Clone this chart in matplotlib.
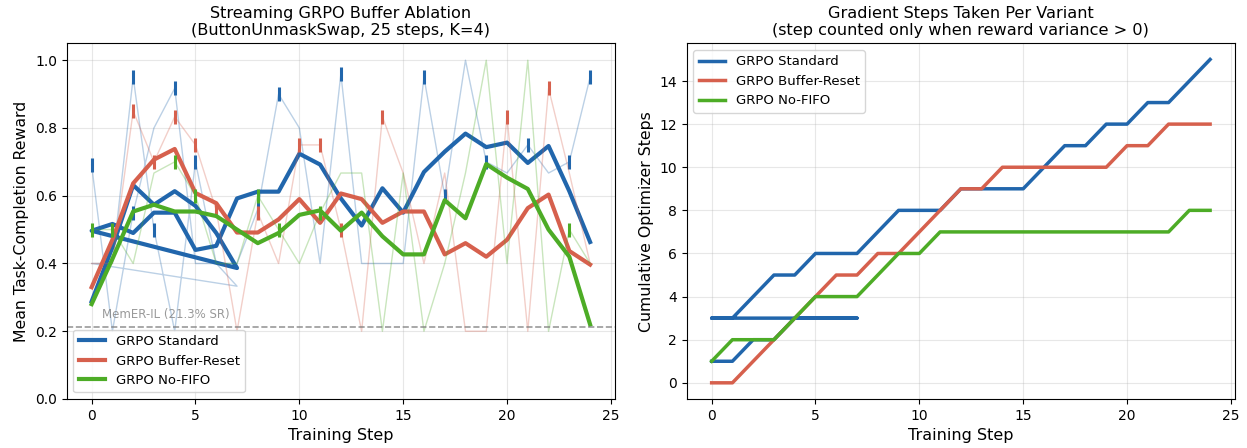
import numpy as np
import matplotlib
matplotlib.use("Agg")
import matplotlib.pyplot as plt

# GRPO Standard was logged as two runs back to back (8 steps, then 25 steps)
std_steps = list(range(8)) + list(range(25))
std_reward = [0.69, 0.2, 0.55, 0.8, 0.917, 0.4, 0.4, 0.333,
              0.4, 0.4, 0.95, 0.5, 0.2, 0.7, 0.4, 0.4, 0.56, 0.9, 0.8, 0.4, 0.96,
              0.4, 0.4, 0.4, 0.95, 0.6, 1.0, 0.7, 0.667, 0.75, 0.667, 0.7, 0.95]
std_cum = [1, 1, 2, 2, 3, 3, 3, 3,
           3, 3, 4, 5, 5, 6, 6, 6, 7, 8, 8, 8, 9, 9, 9, 9, 10, 11, 11, 12, 12,
           13, 13, 14, 15]

steps = list(range(25))
reset_reward = [0.4, 0.4, 0.85, 0.7, 0.833, 0.75, 0.557, 0.2, 0.55, 0.4, 0.75,
                0.75, 0.5, 0.2, 0.833, 0.667, 0.4, 0.667, 0.2, 0.2, 0.833, 0.2,
                0.917, 0.667, 0.4]
reset_cum = [0, 0, 1, 2, 3, 4, 5, 5, 6, 6, 7, 8, 9, 9, 10, 10, 10, 10, 10, 10,
             11, 11, 12, 12, 12]

nofifo_reward = [0.5, 0.5, 0.4, 0.667, 0.7, 0.6, 0.4, 0.4, 0.6, 0.5, 0.4, 0.55,
                 0.667, 0.667, 0.2, 0.667, 0.2, 0.4, 0.667, 1.0, 0.4, 1.0, 0.2,
                 0.5, 0.4]
nofifo_cum = [1, 2, 2, 2, 3, 4, 4, 4, 5, 6, 6, 7, 7, 7, 7, 7, 7, 7, 7, 7, 7, 7,
              7, 8, 8]

baseline_sr = 0.213

variants = [
    ("GRPO Standard", std_steps, std_reward, std_cum, "#2166ac"),
    ("GRPO Buffer-Reset", steps, reset_reward, reset_cum, "#d6604d"),
    ("GRPO No-FIFO", steps, nofifo_reward, nofifo_cum, "#4dac26"),
]

fig = plt.figure(figsize=(12.47, 4.48), dpi=100)
ax1 = fig.add_axes([0.0535, 0.1094, 0.4397, 0.794])
ax2 = fig.add_axes([0.5507, 0.1094, 0.4397, 0.794])

for name, x, r, cum, col in variants:
    x = np.array(x)
    r = np.array(r)
    # 5-step moving average (zero padded at the ends)
    smooth = np.convolve(r, np.ones(5) / 5, mode="same")
    took_step = np.diff(np.array(cum), prepend=0) > 0
    ax1.plot(x, r, color=col, lw=1, alpha=0.3)
    ax1.plot(x[took_step], r[took_step], ls="none", marker="|",
             color=col, ms=10, mew=2.2)
    ax1.plot(x, smooth, color=col, lw=3, label=name)
    ax2.plot(x, cum, color=col, lw=2.5, label=name)

ax1.axhline(baseline_sr, color="gray", ls="--", lw=1.2, alpha=0.8)
ax1.text(0.5, baseline_sr + 0.025, f"MemER-IL ({baseline_sr*100:.1f}% SR)",
         color="gray", fontsize=8.5, alpha=0.8)

ax1.set_ylim(0, 1.05)
ax1.set_xlabel("Training Step", fontsize=11.5)
ax1.set_ylabel("Mean Task-Completion Reward", fontsize=11.3)
ax1.set_title("Streaming GRPO Buffer Ablation\n(ButtonUnmaskSwap, 25 steps, K=4)",
              fontsize=11.6)
ax1.legend(loc="lower left", fontsize=9.5)
ax1.grid(True, alpha=0.3)

ax2.set_xlabel("Training Step", fontsize=11.5)
ax2.set_ylabel("Cumulative Optimizer Steps", fontsize=11.3)
ax2.set_title("Gradient Steps Taken Per Variant\n(step counted only when reward variance > 0)",
              fontsize=11.6)
ax2.legend(loc="upper left", fontsize=9.5)
ax2.grid(True, alpha=0.3)

fig.savefig("out.png", dpi=100)
